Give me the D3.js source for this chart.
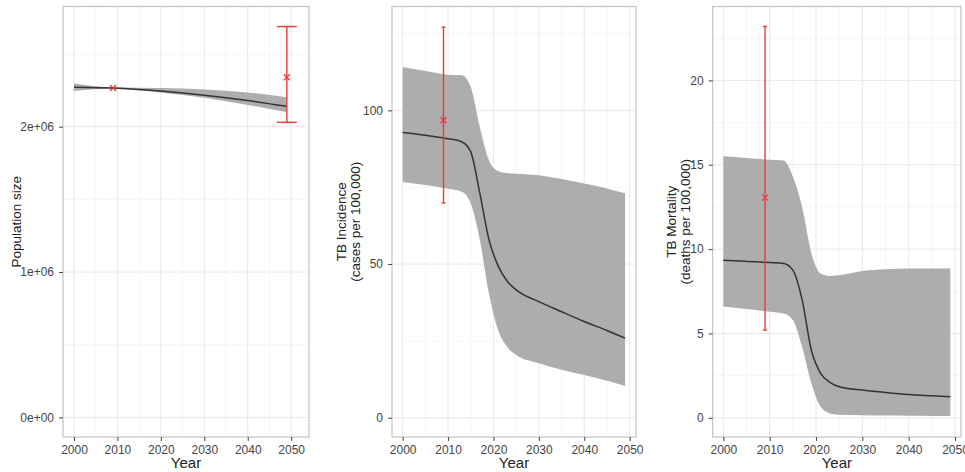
<!DOCTYPE html>
<html>
<head>
<meta charset="utf-8">
<script src="https://cdn.jsdelivr.net/npm/d3@7"></script>
<style>
  body { margin: 0; background: #fff; }
  svg { display: block; font-family: "Liberation Sans", Arial, sans-serif; }
</style>
</head>
<body>
<svg width="965" height="472"></svg>
<script>
// ---- data ----
const popYears  = [2000, 2009, 2020, 2030, 2040, 2049];
const popMean   = [2.272e6, 2.266e6, 2.245e6, 2.217e6, 2.180e6, 2.140e6];
const popLow    = [2.246e6, 2.262e6, 2.234e6, 2.200e6, 2.150e6, 2.100e6];
const popHigh   = [2.298e6, 2.271e6, 2.266e6, 2.256e6, 2.236e6, 2.203e6];
const popObs    = [{ year: 2009, value: 2.266e6, lo: null, hi: null },
                   { year: 2049, value: 2.341e6, lo: 2.03e6, hi: 2.689e6 }];

const incYears  = [2000, 2005, 2010, 2013, 2015, 2017, 2019, 2021, 2023, 2025, 2030, 2035, 2040, 2045, 2049];
const incMean   = [92.8, 91.9, 90.8, 89.8, 86.5, 73.0, 58.0, 49.5, 44.5, 41.6, 37.8, 34.5, 31.3, 28.4, 25.9];
const incLow    = [76.7, 75.7, 74.5, 73.5, 69.7, 57.8, 40.5, 28.6, 23.1, 20.4, 17.7, 15.6, 13.9, 12.0, 10.3];
const incHigh   = [114.1, 112.8, 111.6, 111.4, 107.6, 94.6, 83.8, 80.3, 79.6, 79.4, 78.9, 77.7, 76.2, 74.6, 73.0];
const incObs    = [{ year: 2009, value: 96.8, lo: 69.9, hi: 127.1 }];

const morYears  = [2000, 2005, 2010, 2013, 2015, 2017, 2019, 2021, 2023, 2025, 2030, 2035, 2040, 2045, 2049];
const morMean   = [9.34, 9.27, 9.20, 9.15, 8.75, 7.0, 4.0, 2.63, 2.10, 1.84, 1.64, 1.50, 1.38, 1.30, 1.24];
const morLow    = [6.6, 6.45, 6.28, 6.18, 5.8, 4.2, 2.04, 0.65, 0.26, 0.18, 0.15, 0.13, 0.12, 0.11, 0.10];
const morHigh   = [15.5, 15.4, 15.3, 15.25, 14.3, 12.5, 9.77, 8.55, 8.4, 8.45, 8.7, 8.8, 8.85, 8.85, 8.85];
const morObs    = [{ year: 2009, value: 13.05, lo: 5.2, hi: 23.2 }];

const yearTicks = [2000, 2010, 2020, 2030, 2040, 2050];
const yearMinor = [2005, 2015, 2025, 2035, 2045];

const panels = [
  { years: popYears, mean: popMean, low: popLow, high: popHigh, obs: popObs,
    left: 63, right: 309, yDomain: [-0.135e6, 2.827e6], xDomain: [1997.47, 2054.1],
    yTicks: [0, 1e6, 2e6], yMinor: [0.5e6, 1.5e6, 2.5e6],
    yFormat: v => ["0e+00", "1e+06", "2e+06"][Math.round(v / 1e6)],
    title: ["Population size"], titleX: 16, capHalf: 10 },
  { years: incYears, mean: incMean, low: incLow, high: incHigh, obs: incObs,
    left: 392, right: 636, yDomain: [-6.27, 133.8], xDomain: [1997.65, 2051.4],
    yTicks: [0, 50, 100], yMinor: [25, 75, 125], yFormat: d3.format("d"),
    title: ["TB Incidence", "(cases per 100,000)"], titleX: 341.5, capHalf: 2 },
  { years: morYears, mean: morMean, low: morLow, high: morHigh, obs: morObs,
    left: 712.7, right: 961, yDomain: [-1.14, 24.38], xDomain: [1997.7, 2051.3],
    yTicks: [0, 5, 10, 15, 20], yMinor: [2.5, 7.5, 12.5, 17.5, 22.5], yFormat: d3.format("d"),
    title: ["TB Mortality", "(deaths per 100,000)"], titleX: 671.5, capHalf: 2 }
];

const plotTop = 6.5, plotBottom = 437;
const svg = d3.select("svg");

panels.forEach(p => {
  const x = d3.scaleLinear().domain(p.xDomain).range([p.left, p.right]);
  const y = d3.scaleLinear().domain(p.yDomain).range([plotBottom, plotTop]);
  const g = svg.append("g");

  // grid
  const grid = g.append("g");
  yearMinor.forEach(v => grid.append("line").attr("x1", x(v)).attr("x2", x(v)).attr("y1", plotTop).attr("y2", plotBottom)
    .attr("stroke", "#f4f4f4").attr("stroke-width", 0.8));
  p.yMinor.filter(v => y(v) > plotTop).forEach(v => grid.append("line").attr("x1", p.left).attr("x2", p.right)
    .attr("y1", y(v)).attr("y2", y(v)).attr("stroke", "#f4f4f4").attr("stroke-width", 0.8));
  yearTicks.forEach(v => grid.append("line").attr("x1", x(v)).attr("x2", x(v)).attr("y1", plotTop).attr("y2", plotBottom)
    .attr("stroke", "#e8e8e8").attr("stroke-width", 1));
  p.yTicks.forEach(v => grid.append("line").attr("x1", p.left).attr("x2", p.right)
    .attr("y1", y(v)).attr("y2", y(v)).attr("stroke", "#e8e8e8").attr("stroke-width", 1));

  const rows = p.years.map((yr, i) => ({ year: yr, mean: p.mean[i], low: p.low[i], high: p.high[i] }));

  // ribbon
  const area = d3.area().curve(d3.curveMonotoneX)
    .x(d => x(d.year)).y0(d => y(d.low)).y1(d => y(d.high));
  g.append("path").datum(rows).attr("d", area).attr("fill", "#adadad");

  // mean line
  const line = d3.line().curve(d3.curveMonotoneX).x(d => x(d.year)).y(d => y(d.mean));
  g.append("path").datum(rows).attr("d", line).attr("fill", "none")
    .attr("stroke", "#333").attr("stroke-width", 1.5);

  // observed points with error bars
  const red = "#f0383c";
  p.obs.forEach(o => {
    const cx = x(o.year), cy = y(o.value);
    if (o.lo !== null) {
      g.append("line").attr("x1", cx).attr("x2", cx).attr("y1", y(o.lo)).attr("y2", y(o.hi))
        .attr("stroke", red).attr("stroke-width", 1.4);
      [o.lo, o.hi].forEach(v => g.append("line").attr("x1", cx - p.capHalf).attr("x2", cx + p.capHalf)
        .attr("y1", y(v)).attr("y2", y(v)).attr("stroke", red).attr("stroke-width", 1.4));
    }
    const s = 3;
    g.append("path").attr("d", `M${cx - s},${cy - s}L${cx + s},${cy + s}M${cx - s},${cy + s}L${cx + s},${cy - s}`)
      .attr("stroke", red).attr("stroke-width", 1.4).attr("fill", "none");
  });

  // panel border
  g.append("rect").attr("x", p.left).attr("y", plotTop).attr("width", p.right - p.left).attr("height", plotBottom - plotTop)
    .attr("fill", "none").attr("stroke", "#c4c4c4").attr("stroke-width", 1.2);

  // axes
  const xAxis = g.append("g").attr("transform", `translate(0,${plotBottom})`)
    .call(d3.axisBottom(x).tickValues(yearTicks).tickFormat(d3.format("d")).tickSize(4).tickPadding(4));
  const yAxis = g.append("g").attr("transform", `translate(${p.left},0)`)
    .call(d3.axisLeft(y).tickValues(p.yTicks).tickFormat(p.yFormat).tickSize(4).tickPadding(5));
  [xAxis, yAxis].forEach(a => {
    a.select(".domain").remove();
    a.selectAll(".tick line").attr("stroke", "#444").attr("stroke-width", 1);
    a.selectAll("text").attr("fill", "#444").style("font-size", "12px");
  });

  // titles
  g.append("text").attr("x", (p.left + p.right) / 2).attr("y", 468).attr("text-anchor", "middle")
    .attr("fill", "#222").style("font-size", "15px").text("Year");
  const ty = (plotTop + plotBottom) / 2;
  p.title.forEach((t, i) => {
    g.append("text").attr("transform", `translate(${p.titleX + i * 13.5},${ty}) rotate(-90)`)
      .attr("text-anchor", "middle").attr("dy", "0.35em").attr("fill", "#222")
      .style("font-size", "13.5px").text(t);
  });
});
</script>
</body>
</html>
